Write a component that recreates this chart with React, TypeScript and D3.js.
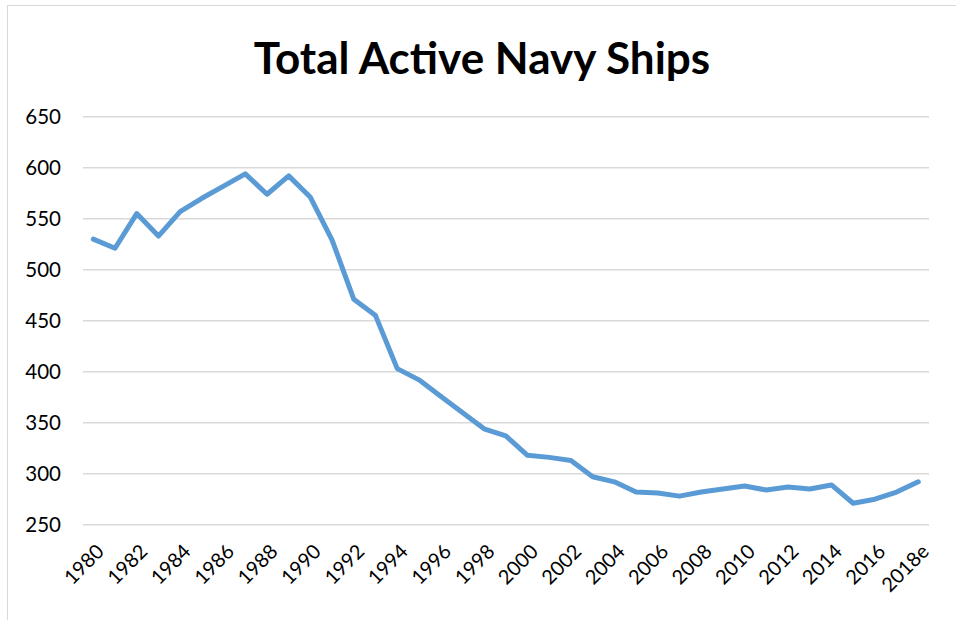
import React from "react";
import * as d3 from "d3";

const years: string[] = [
  "1980","1981","1982","1983","1984","1985","1986","1987","1988","1989",
  "1990","1991","1992","1993","1994","1995","1996","1997","1998","1999",
  "2000","2001","2002","2003","2004","2005","2006","2007","2008","2009",
  "2010","2011","2012","2013","2014","2015","2016","2017","2018e",
];
const ships: number[] = [
  530, 521, 555, 533, 557, 570, 582, 594, 574, 592,
  571, 529, 471, 455, 403, 392, 376, 360, 344, 337,
  318, 316, 313, 297, 292, 282, 281, 278, 282, 285,
  288, 284, 287, 285, 289, 271, 275, 282, 292,
];
const yTicks: number[] = [250, 300, 350, 400, 450, 500, 550, 600, 650];
const xLabels: string[] = years.filter((_, i) => i % 2 === 0);
const title = "Total Active Navy Ships";

const W = 956;
const H = 620;

export default function App() {
  const x = d3.scalePoint<string>().domain(years).range([93.3, 918.3]);
  const y = d3.scaleLinear().domain([250, 650]).range([524.7, 116.7]);
  const line = d3
    .line<number>()
    .x((_, i) => x(years[i]) as number)
    .y((d) => y(d));
  const font = "Lato, 'Open Sans', sans-serif";

  return (
    <svg
      width={W}
      height={H}
      style={{ position: "absolute", left: 0, top: 0, background: "#fff" }}
    >
      <rect x={0} y={0} width={W} height={H} fill="#fff" />
      <rect
        x={7.5}
        y={5.5}
        width={W + 10}
        height={H + 10}
        fill="none"
        stroke="#d9d9d9"
        strokeWidth={1}
      />
      <text
        x={482}
        y={73.5}
        textAnchor="middle"
        fontFamily={font}
        fontWeight={700}
        fontSize={44}
        fill="#000"
      >
        {title}
      </text>
      {yTicks.map((t) => (
        <g key={t}>
          <line
            x1={83}
            x2={929}
            y1={y(t)}
            y2={y(t)}
            stroke="#d9d9d9"
            strokeWidth={1.5}
          />
          <text
            x={61}
            y={y(t)}
            dy="0.36em"
            textAnchor="end"
            fontFamily={font}
            fontSize={20.5}
            fill="#000"
          >
            {t}
          </text>
        </g>
      ))}
      <path
        d={line(ships) || ""}
        fill="none"
        stroke="#5b9bd5"
        strokeWidth={5}
        strokeLinejoin="round"
        strokeLinecap="round"
      />
      {xLabels.map((lab) => {
        const px = (x(lab) as number) + 2;
        const py = 543;
        return (
          <text
            key={lab}
            x={px}
            y={py}
            transform={`rotate(-45 ${px} ${py})`}
            textAnchor="end"
            dy="0.7em"
            fontFamily={font}
            fontSize={20}
            fill="#000"
          >
            {lab}
          </text>
        );
      })}
    </svg>
  );
}
